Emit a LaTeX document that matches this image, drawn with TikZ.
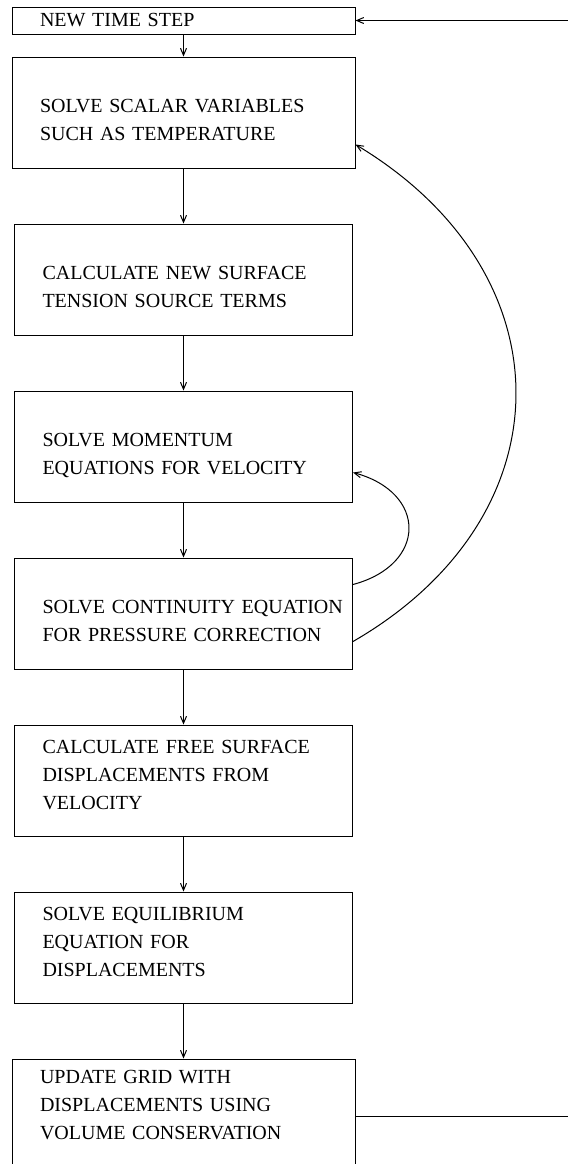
\documentclass[tikz,border=0pt]{standalone}
\usepackage{fontspec}
\setmainfont{Liberation Serif}
\usetikzlibrary{arrows.meta, positioning}
\hfuzz=20pt

\begin{document}
\begin{tikzpicture}[->,>={Straight Barb[length=3.5pt,width=3pt]},line width=0.5pt,
  node distance=27.5pt,
  task node/.style={rectangle,draw,align=left,inner xsep=14pt,inner ysep=2pt,
    text width=141pt,minimum height=55.5pt,font=\fontsize{10}{14}\selectfont},
  wide/.style={text width=143.5pt},
  two lines/.style={text height=14pt,text depth=14pt},
  three lines/.style={text height=6.6pt,text depth=34pt}]
  \useasboundingbox (0,0) rectangle (284pt,-582pt);

  \node[task node, wide, minimum height=13.5pt] (1) at (91.75pt,-10.25pt) {NEW TIME STEP};
  \node[task node, wide, two lines] (2) [below=11pt of 1]
    {SOLVE SCALAR VARIABLES\\SUCH AS TEMPERATURE};
  \node[task node, two lines] (3) [below=of 2]
    {CALCULATE NEW SURFACE\\TENSION SOURCE TERMS};
  \node[task node, two lines] (4) [below=of 3]
    {SOLVE MOMENTUM\\EQUATIONS FOR VELOCITY};
  \node[task node, two lines] (5) [below=of 4]
    {\mbox{SOLVE CONTINUITY EQUATION}\\\mbox{FOR PRESSURE CORRECTION}};
  \node[task node, three lines] (6) [below=of 5]
    {CALCULATE FREE SURFACE\\DISPLACEMENTS FROM\\VELOCITY};
  \node[task node, three lines] (7) [below=of 6]
    {SOLVE EQUILIBRIUM\\EQUATION FOR\\DISPLACEMENTS};
  \node[task node, wide, three lines, text depth=39pt, minimum height=57pt] (8) [below=of 7]
    {UPDATE GRID WITH\\DISPLACEMENTS USING\\VOLUME CONSERVATION};

  \path
    (1) edge (2)
    (2) edge (3)
    (3) edge (4)
    (4) edge (5)
    (5) edge (6)
    (6) edge (7)
    (7) edge (8)
    % inner and outer iteration loops
    ([yshift=-13.5pt]5.north east) edge [out=15,in=-15,distance=38.5pt] ([yshift=15pt]4.south east)
    ([yshift=14pt]5.south east) edge [out=30,in=-31,distance=125pt] ([yshift=12pt]2.south east);

  % back to the next time step
  \draw (8.east) -- ++(110pt,0) |- (1.east);
\end{tikzpicture}
\end{document}
